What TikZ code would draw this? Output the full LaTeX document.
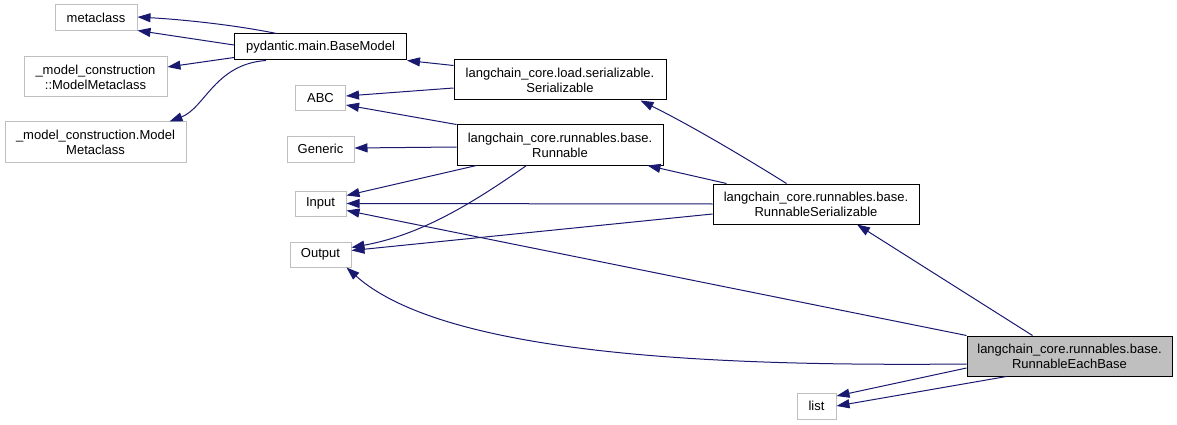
\documentclass[tikz,border=0pt]{standalone}
\usepackage{fontspec}
\setmainfont{Liberation Sans}
\usetikzlibrary{arrows.meta,calc}
\definecolor{edgeblue}{HTML}{191970}
\definecolor{greyline}{HTML}{BFBFBF}
\definecolor{greyfill}{HTML}{BFBFBF}
\begin{document}
\begin{tikzpicture}[x=1pt,y=-1pt,
  box/.style={draw=black, line width=1pt, inner sep=0pt, align=center,
    font=\fontsize{13}{15}\selectfont, fill=white},
  gbox/.style={box, draw=greyline},
  edge/.style={draw=edgeblue, line width=1pt, -{Triangle[length=13pt,width=9pt]}}]
\useasboundingbox (0,0) rectangle (1177,425);

\node[gbox, minimum width=82pt, minimum height=26pt] (meta) at (96,18) {metaclass};
\node[box, minimum width=172pt, minimum height=26pt] (bm) at (320.5,47) {pydantic.main.BaseModel};
\node[gbox, minimum width=143pt, minimum height=40pt] (mmc1) at (95.5,77) {\_model\_construction\\::ModelMetaclass};
\node[gbox, minimum width=181pt, minimum height=40pt] (mmc2) at (95.5,142) {\_model\_construction.Model\\Metaclass};
\node[gbox, minimum width=50pt, minimum height=25pt] (abc) at (320.5,98) {ABC};
\node[gbox, minimum width=67pt, minimum height=26pt] (gen) at (320.5,149) {Generic};
\node[gbox, minimum width=51pt, minimum height=25pt] (inp) at (320.5,203.5) {Input};
\node[gbox, minimum width=61pt, minimum height=25pt] (out) at (320.5,254.5) {Output};
\node[box, minimum width=212pt, minimum height=40pt] (ser) at (560,80) {langchain\_core.load.serializable.\\Serializable};
\node[box, minimum width=206pt, minimum height=40pt] (run) at (560,145) {langchain\_core.runnables.base.\\Runnable};
\node[box, minimum width=206pt, minimum height=40pt] (rs) at (816,204) {langchain\_core.runnables.base.\\RunnableSerializable};
\node[box, fill=greyfill, minimum width=205pt, minimum height=40pt] (reb) at (1069.5,356) {langchain\_core.runnables.base.\\RunnableEachBase};
\node[gbox, minimum width=39pt, minimum height=26pt] (lst) at (816.5,406) {list};

% BaseModel
\draw[edge] ($(bm.north west)+(42.5,0)$) .. controls (240,26) and (190,20) .. ($(meta.east)+(0,-1)$);
\draw[edge] ($(bm.west)+(0,-2)$) -- ($(meta.south east)+(0,-1)$);
\draw[edge] ($(bm.south west)+(0,-3)$) -- ($(mmc1.east)+(0,-10)$);
\draw[edge] ($(bm.south west)+(32,0)$) .. controls (215,64) and (205,108) .. ($(mmc2.north east)+(-17,0)$);
% Serializable
\draw[edge] ($(ser.north west)+(0,6)$) -- (bm.south east);
\draw[edge] ($(ser.west)+(0,8)$) -- ($(abc.east)+(0,-2)$);
% Runnable
\draw[edge] (run.north west) -- ($(abc.south east)+(0,-6)$);
\draw[edge] ($(run.west)+(0,2)$) -- ($(gen.east)+(0,-1)$);
\draw[edge] ($(run.south west)+(20,0)$) -- ($(inp.east)+(0,-8)$);
\draw[edge] ($(run.south west)+(70,0)$) .. controls (470,205) and (420,235) .. ($(out.east)+(0,-7)$);
% RunnableSerializable
\draw[edge] ($(rs.north west)+(74,0)$) .. controls (765,170) and (700,130) .. ($(ser.south east)+(-26,0)$);
\draw[edge] ($(rs.north west)+(14,0)$) -- ($(run.south east)+(-16,0)$);
\draw[edge] (rs.west) -- (inp.east);
\draw[edge] ($(rs.west)+(0,10)$) -- ($(out.east)+(0,-4)$);
% RunnableEachBase
\draw[edge] ($(reb.north west)+(66,0)$) -- ($(rs.south)+(41,0)$);
\draw[edge] (reb.north west) -- ($(inp.east)+(0,7)$);
\draw[edge] ($(reb.west)+(0,8)$) .. controls (750,366) and (450,360) .. ($(out.south east)+(-5,0)$);
\draw[edge] ($(reb.west)+(0,12)$) -- ($(lst.east)+(0,-10)$);
\draw[edge] ($(reb.south west)+(40,0)$) -- (lst.east);
\end{tikzpicture}
\end{document}
